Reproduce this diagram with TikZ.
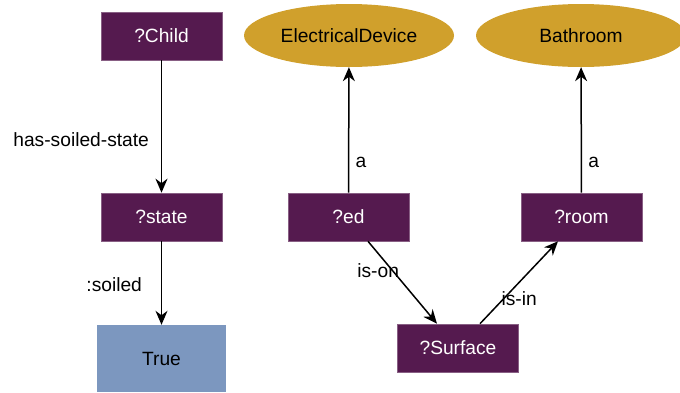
\documentclass[tikz,border=0pt]{standalone}
\usepackage{fontspec}
\setmainfont{Liberation Sans}
\usetikzlibrary{arrows.meta,positioning,shapes.geometric}
\definecolor{Vcolor}{HTML}{551A4F}
\definecolor{Ccolor}{HTML}{D0A02C}
\definecolor{Lcolor}{HTML}{7C97BF}
\begin{document}
\begin{tikzpicture}[
  x=1pt, y=-1pt,
  font=\fontsize{19.2}{23}\selectfont,
  var/.style={draw=Vcolor!70!white, fill=Vcolor, line width=0.6pt, text=white, minimum width=121pt, minimum height=48pt, inner sep=0pt},
  cls/.style={ellipse, fill=Ccolor, minimum width=210pt, minimum height=63pt, inner sep=0pt},
  lit/.style={fill=Lcolor, minimum width=129pt, minimum height=67pt, inner sep=0pt},
  arr/.style={-{Stealth[length=14pt, width=12pt, inset=4.5pt]}, line width=1.5pt},
]
  \useasboundingbox (0,0) rectangle (680,392);

  % Nodes
  \node[var] (child) at (161.5, 36) {?Child};
  \node[var] (state) at (161.5, 217) {?state};
  \node[lit] (true) at (161.5, 358.5) {True};
  \node[cls] (elec) at (349, 35.5) {ElectricalDevice};
  \node[cls] (bath) at (581, 35.5) {Bathroom};
  \node[var] (ed) at (348.5, 217) {?ed};
  \node[var] (room) at (581.5, 217) {?room};
  \node[var] (surf) at (458, 348) {?Surface};

  % Edges
  \draw[arr] (child) -- node[pos=0.6, left=8.5pt] {has-soiled-state} (state);
  \draw[arr] (state) -- node[pos=0.52, left=15.5pt] {:soiled} (true);
  \draw[arr] (ed) -- node[pos=0.24, right=3pt] {a} (elec);
  \draw[arr] (room) -- node[pos=0.24, right=3pt] {a} (bath);
  \draw[arr] ([xshift=19.5pt]ed.south) -- node[pos=0.35, xshift=-14pt] {is-on} ([xshift=-21pt]surf.north);
  \draw[arr] ([xshift=22pt]surf.north) -- node[pos=0.31, xshift=15pt] {is-in} ([xshift=-23.5pt]room.south);
\end{tikzpicture}
\end{document}
